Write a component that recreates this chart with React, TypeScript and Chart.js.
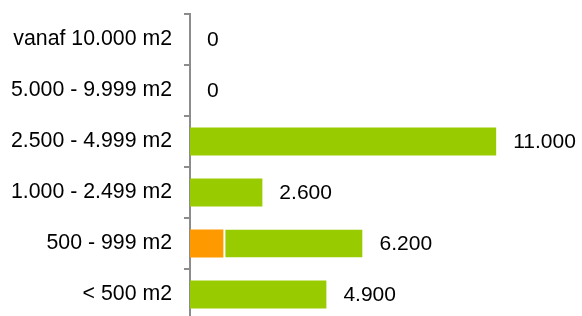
import React, { useEffect, useRef } from "react";
import { Chart, registerables } from "chart.js";

Chart.register(...registerables);

const categories = [
  "vanaf 10.000 m2",
  "5.000 - 9.999 m2",
  "2.500 - 4.999 m2",
  "1.000 - 2.499 m2",
  "500 - 999 m2",
  "< 500 m2",
];
const orangeValues = [0, 0, 0, 0, 1200, 0];
const greenValues = [0, 0, 11000, 2600, 5000, 4900];

const FONT = "'Liberation Sans', Arial, sans-serif";

const fmt = (v: number) => v.toString().replace(/\B(?=(\d{3})+(?!\d))/g, ".");

const totalsPlugin = {
  id: "totals",
  afterDatasetsDraw(chart: any) {
    const ctx = chart.ctx;
    const xs = chart.scales.x;
    const ys = chart.scales.y;
    ctx.save();
    ctx.font = `21px ${FONT}`;
    ctx.fillStyle = "#000";
    ctx.textAlign = "left";
    ctx.textBaseline = "middle";
    categories.forEach((_, i) => {
      const total = orangeValues[i] + greenValues[i];
      const x = xs.getPixelForValue(total) + 17;
      const y = ys.getPixelForValue(i);
      ctx.fillText(fmt(total), x, y + 1);
    });
    ctx.restore();
  },
};

export default function App() {
  const ref = useRef<HTMLCanvasElement>(null);
  useEffect(() => {
    document.body.style.margin = "0";
    document.body.style.overflow = "hidden";
    const chart = new Chart(ref.current!, {
      type: "bar",
      data: {
        labels: categories,
        datasets: [
          {
            data: orangeValues,
            backgroundColor: "#ff9900",
            borderWidth: 0,
            categoryPercentage: 1,
            barPercentage: 0.55,
          },
          {
            data: greenValues,
            backgroundColor: "#99cc00",
            borderColor: "#ffffff",
            borderSkipped: false,
            borderWidth: (c: any) =>
              orangeValues[c.dataIndex] > 0 ? { left: 2, top: 0, right: 0, bottom: 0 } : 0,
            categoryPercentage: 1,
            barPercentage: 0.55,
          },
        ],
      },
      plugins: [totalsPlugin],
      options: {
        indexAxis: "y",
        animation: false,
        responsive: false,
        maintainAspectRatio: false,
        layout: { padding: { top: 14, right: 58, bottom: 0, left: 0 } },
        plugins: { legend: { display: false }, tooltip: { enabled: false } },
        scales: {
          x: {
            stacked: true,
            display: false,
            min: 0,
            max: 12000,
          },
          y: {
            stacked: true,
            afterFit: (s: any) => {
              s.width = 190;
              s.paddingTop = 0;
              s.paddingBottom = 0;
            },
            border: { display: true, color: "#8c8c8c", width: 2 },
            grid: {
              drawOnChartArea: false,
              drawTicks: true,
              tickLength: 6,
              color: "#8c8c8c",
              lineWidth: 2,
            },
            ticks: {
              autoSkip: false,
              padding: 12,
              color: "#000",
              font: { family: FONT, size: 21.3 },
            },
          },
        },
      } as any,
    });
    return () => chart.destroy();
  }, []);
  return (
    <div style={{ width: 582, height: 316, overflow: "hidden" }}>
      <canvas ref={ref} width={582} height={320} style={{ display: "block" }} />
    </div>
  );
}
